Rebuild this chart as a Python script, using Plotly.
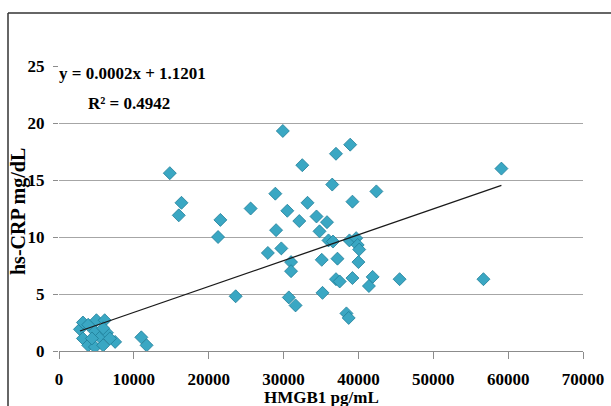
import plotly.graph_objects as go

# HMGB1 (pg/mL) and hs-CRP (mg/dL) values
hmgb1 = [2800, 3200, 3900, 5000, 6100, 3200, 3900, 4800, 4800, 5500, 5900, 6400,
         7500, 4400, 5900, 6800, 11000, 11700,
         14800, 16360, 16000, 21560, 21250, 23600, 25600, 27900, 28900, 29000,
         29700, 29900, 30500, 31000, 31000, 30700, 31600, 32100, 32500, 33200,
         34400, 34800, 35800, 35100, 35200, 36000, 36600, 36500, 37000, 37200,
         37000, 37500, 38400, 38700, 38800, 38900, 39200, 39200, 39700, 39900,
         40100, 40000, 41900, 41400, 42400, 45500, 56700, 59100]
hscrp = [1.9, 2.5, 2.3, 2.7, 2.7, 1.1, 0.5, 1.7, 0.35, 1.2, 0.5, 1.6,
         0.8, 1.1, 2.0, 1.1, 1.2, 0.5,
         15.6, 13.0, 11.9, 11.5, 10.0, 4.8, 12.5, 8.6, 13.8, 10.6,
         9.0, 19.3, 12.3, 7.8, 7.0, 4.7, 4.0, 11.4, 16.3, 13.0,
         11.8, 10.5, 11.3, 8.0, 5.1, 9.7, 9.6, 14.6, 17.3, 8.1,
         6.3, 6.1, 3.3, 2.9, 9.7, 18.1, 13.1, 6.4, 9.9, 9.3,
         8.9, 7.8, 6.5, 5.7, 14.0, 6.3, 6.3, 16.0]

# trendline as drawn in the chart (slope/intercept)
trend_slope = 0.000227
trend_intercept = 1.12

x_ticks = [0, 10000, 20000, 30000, 40000, 50000, 60000, 70000]
y_ticks = [0, 5, 10, 15, 20, 25]
equation_text = "y = 0.0002x + 1.1201"
r2_text = "R² = 0.4942"
x_title = "HMGB1 pg/mL"
y_title = "hs-CRP mg/dL"

x_line = [min(hmgb1), max(hmgb1)]
y_line = [trend_slope * v + trend_intercept for v in x_line]

FONT = "Liberation Serif"
fig = go.Figure()
fig.add_trace(go.Scatter(
    x=hmgb1, y=hscrp, mode="markers",
    marker=dict(symbol="diamond", size=10, color="#3aa7c3",
                line=dict(color="#1f7e98", width=0.8)),
    showlegend=False, hoverinfo="x+y"))
fig.add_trace(go.Scatter(
    x=x_line, y=y_line, mode="lines",
    line=dict(color="#1a1a1a", width=1.3), showlegend=False))

tick_font = dict(family=FONT, size=17, color="black")
fig.update_layout(
    width=611, height=406,
    margin=dict(l=59, r=28, t=66, b=55),
    paper_bgcolor="white", plot_bgcolor="white",
    font=dict(family=FONT, size=16, color="black"),
    xaxis=dict(range=[0, 70000], tickvals=x_ticks,
               ticktext=["<b>%d</b>" % v for v in x_ticks],
               showgrid=False, zeroline=False, automargin=False,
               showline=True, linecolor="#8c8c8c", linewidth=1,
               ticks="outside", ticklen=7, tickcolor="#8c8c8c",
               ticklabelstandoff=6, tickfont=tick_font),
    yaxis=dict(range=[0, 25], tickvals=y_ticks,
               ticktext=["<b>%d</b>" % v for v in y_ticks],
               showgrid=True, gridcolor="#a6a6a6", gridwidth=1,
               zeroline=False, showline=False, automargin=False,
               ticks="outside", ticklen=5, tickcolor="#8c8c8c",
               ticklabelstandoff=5, tickfont=tick_font),
)

ann_font = dict(family=FONT, size=17, color="black")
fig.add_annotation(xref="paper", yref="paper", x=-0.003, y=0.975,
                   text="<b>" + equation_text + "</b>", showarrow=False,
                   xanchor="left", yanchor="middle", font=ann_font)
fig.add_annotation(xref="paper", yref="paper", x=0.052, y=0.870,
                   text="<b>" + r2_text + "</b>", showarrow=False,
                   xanchor="left", yanchor="middle", font=ann_font)
fig.add_annotation(xref="paper", yref="paper", x=-0.077, y=0.49,
                   text="<b>" + y_title + "</b>", showarrow=False, textangle=-90,
                   xanchor="center", yanchor="middle",
                   font=dict(family=FONT, size=20, color="black"))
fig.add_annotation(xref="paper", yref="paper", x=0.5, y=-0.164,
                   text="<b>" + x_title + "</b>", showarrow=False,
                   xanchor="center", yanchor="middle", font=ann_font)

# outer chart frame (left and top edges visible)
bx = -51 / 524
by = (351 - 13) / 285
fig.add_shape(type="line", xref="paper", yref="paper",
              x0=bx, x1=bx, y0=-0.3, y1=by, line=dict(color="#333333", width=1.5))
fig.add_shape(type="line", xref="paper", yref="paper",
              x0=bx, x1=1.2, y0=by, y1=by, line=dict(color="#333333", width=1.5))

fig.write_html("out.html", config={"displayModeBar": False},
               post_script="document.body.style.margin='0';document.body.style.overflow='hidden';")
